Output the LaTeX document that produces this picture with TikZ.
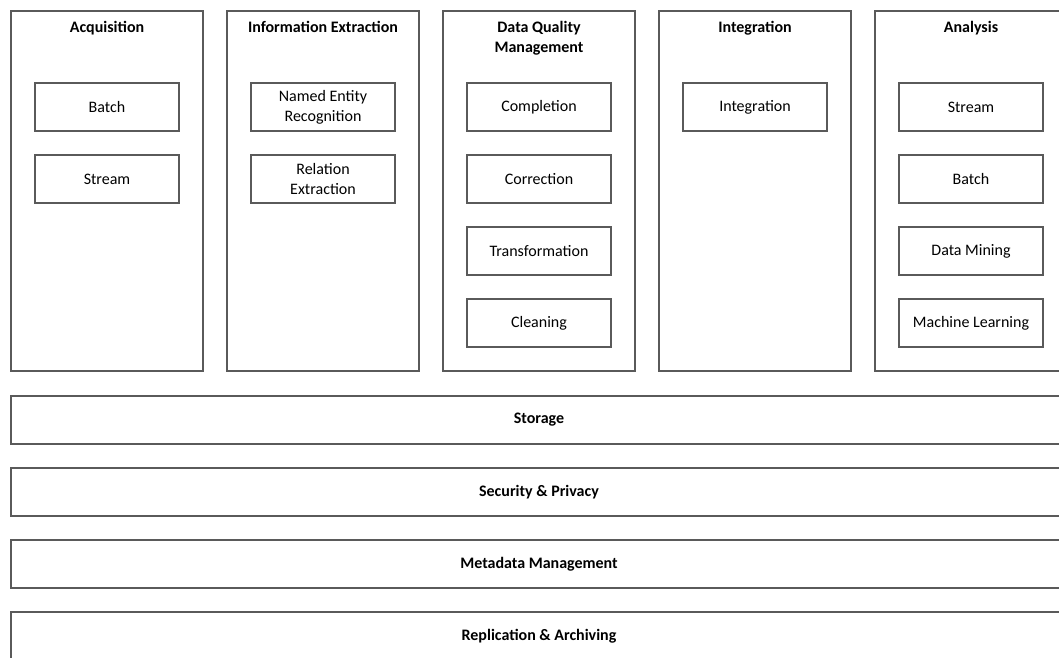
\documentclass[tikz,border=0pt]{standalone}
\usepackage{fontspec}
\setmainfont{Carlito}
\usetikzlibrary{positioning}
\definecolor{boxgray}{HTML}{5A5A5A}
\newcommand{\diagfont}{\fontsize{16}{20}\selectfont}
\tikzset{
  column/.style={draw=boxgray, line width=1.3pt, minimum width=192pt, minimum height=360pt, inner sep=0pt},
  coltitle/.style={font=\diagfont\bfseries, align=center, anchor=base, inner sep=0pt},
  item/.style={draw=boxgray, line width=1.3pt, minimum width=144pt, minimum height=48pt, align=center, inner sep=0pt},
  layer/.style={draw=boxgray, line width=1.3pt, minimum width=1056pt, minimum height=48pt, font=\diagfont\bfseries, inner sep=0pt},
}
\begin{document}
\begin{tikzpicture}[x=1pt, y=-1pt, font=\diagfont, node distance=22.7pt]
  \useasboundingbox (0,0) rectangle (1059,657);
  \clip (0,0) rectangle (1059,657);
  % columns
  \node[column] (acq) at (107,191) {};
  \node[column] (ie)  at (323,191) {};
  \node[column] (dqm) at (539,191) {};
  \node[column] (int) at (755,191) {};
  \node[column] (ana) at (971,191) {};
  \node[coltitle] at (107,32) {Acquisition};
  \node[coltitle] at (323,32) {Information Extraction};
  \node[coltitle] at (539,52) {Data Quality\\Management};
  \node[coltitle] at (755,32) {Integration};
  \node[coltitle] at (971,32) {Analysis};
  % acquisition
  \node[item] (acqbatch) at (107,107) {Batch};
  \node[item, below=of acqbatch] (acqstream) {Stream};
  % information extraction
  \node[item] (ner) at (323,107) {Named Entity\\Recognition};
  \node[item, below=of ner] (relext) {Relation\\Extraction};
  % data quality management
  \node[item] (compl) at (539,107) {Completion};
  \node[item, below=of compl] (corr) {Correction};
  \node[item, below=of corr] (trans) {Transformation};
  \node[item, below=of trans] (clean) {Cleaning};
  % integration
  \node[item] (integ) at (755,107) {Integration};
  % analysis
  \node[item] (anastream) at (971,107) {Stream};
  \node[item, below=of anastream] (anabatch) {Batch};
  \node[item, below=of anabatch] (mining) {Data Mining};
  \node[item, below=of mining] (ml) {Machine Learning};
  % layers
  \node[layer] (storage)  at (539,420) {Storage};
  \node[layer] (security) at (539,492) {Security \& Privacy};
  \node[layer] (meta)     at (539,564) {Metadata Management};
  \node[layer] (repl)     at (539,636) {Replication \& Archiving};
\end{tikzpicture}
\end{document}
